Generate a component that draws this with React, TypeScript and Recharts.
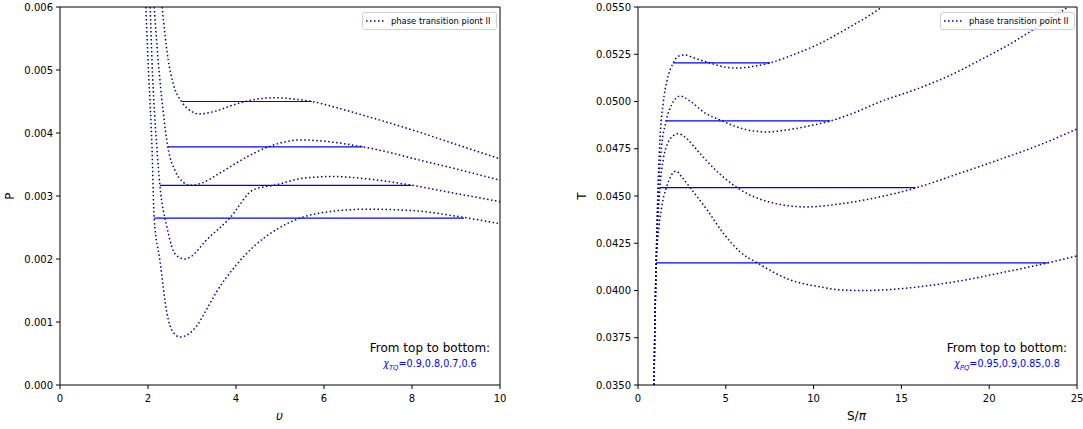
import { Line, LineChart, ReferenceLine, XAxis, YAxis } from "recharts";

// left panel: P vs v, chi_TQ = 0.9, 0.8, 0.7, 0.6  ([v, P])
const tq09 = [
  [2.32, 0.006], [2.46, 0.00516], [2.57, 0.00479], [2.77, 0.00449], [3.0, 0.00434], [3.15, 0.0043],
  [3.5, 0.00434], [4.0, 0.00446], [4.5, 0.00454], [4.9, 0.00456], [5.3, 0.00454], [5.72, 0.0045],
  [6.5, 0.00436], [7.0, 0.00426], [8.0, 0.00405], [9.0, 0.00382], [10, 0.00359],
];
const tq08 = [
  [2.14, 0.006], [2.23, 0.00516], [2.34, 0.00437], [2.45, 0.00378], [2.61, 0.00341], [2.8, 0.00322],
  [2.95, 0.00317], [3.2, 0.0032], [3.6, 0.00335], [4.0, 0.00352], [4.5, 0.00371], [5.0, 0.00384],
  [5.45, 0.00389], [6.0, 0.00387], [6.88, 0.00378], [7.5, 0.00369], [8.0, 0.0036], [9.0, 0.00343], [10, 0.00325],
];
const tq07 = [
  [2.05, 0.006], [2.09, 0.00516], [2.2, 0.00378], [2.27, 0.00317], [2.43, 0.00251], [2.57, 0.00214],
  [2.7, 0.00203], [2.84, 0.002], [3.0, 0.00205], [3.3, 0.00228], [3.86, 0.00265], [4.4, 0.0031],
  [4.93, 0.00318], [5.5, 0.00328], [6.2, 0.00331], [7.0, 0.00327], [8.0, 0.00317], [9.0, 0.00304], [10, 0.00291],
];
const tq06 = [
  [1.95, 0.006], [2.0, 0.00516], [2.09, 0.00378], [2.14, 0.00265], [2.27, 0.00198], [2.43, 0.00114],
  [2.57, 0.00084], [2.73, 0.00076], [2.9, 0.0008], [3.11, 0.00094], [3.3, 0.00116], [3.56, 0.00148],
  [4.0, 0.0019], [4.39, 0.00219], [4.9, 0.00246], [5.5, 0.00266], [6.0, 0.00274], [6.97, 0.00279],
  [8.0, 0.00277], [9.0, 0.00268], [10, 0.00256],
];
// equal-area lines: [P, v start, v end]
const tqLevels = [
  [0.0045, 2.77, 5.72],
  [0.00378, 2.45, 6.88],
  [0.00317, 2.27, 7.99],
  [0.00265, 2.14, 9.18],
];

// right panel: T vs S/pi, chi_PQ = 0.95, 0.9, 0.85, 0.8  ([S/pi, T])
const pq095 = [
  [0.91, 0.035], [0.98, 0.039], [1.08, 0.0435], [1.25, 0.048], [1.43, 0.0499], [1.65, 0.0511],
  [2.01, 0.05204], [2.3, 0.0524], [2.68, 0.05246], [3.2, 0.0523], [4.1, 0.05204], [4.8, 0.05185],
  [5.64, 0.05177], [6.5, 0.05185], [7.52, 0.05204], [8.5, 0.05235], [9.4, 0.05268], [10.38, 0.05308],
  [11.7, 0.05375], [13, 0.05445], [13.9, 0.055],
];
const pq09 = [
  [0.91, 0.035], [0.97, 0.0385], [1.05, 0.042], [1.15, 0.045], [1.3, 0.0472], [1.6, 0.04897],
  [1.9, 0.0498], [2.4, 0.05029], [3.0, 0.05], [3.8, 0.0494], [4.68, 0.04902], [5.5, 0.0487],
  [6.5, 0.04845], [7.36, 0.04839], [8.5, 0.0485], [9.7, 0.0487], [10.95, 0.04897], [12.3, 0.0494],
  [13.8, 0.04999], [15.7, 0.0506], [17.6, 0.05131], [19.5, 0.0522], [21.4, 0.05316], [23, 0.0541], [24.5, 0.055],
];
const pq085 = [
  [0.91, 0.035], [0.96, 0.038], [1.02, 0.0408], [1.1, 0.043], [1.25, 0.04544], [1.45, 0.047],
  [1.7, 0.0478], [2.0, 0.04818], [2.28, 0.0483], [2.7, 0.0481], [3.36, 0.04743], [4.5, 0.0463],
  [5.65, 0.04544], [7.7, 0.04463], [9.6, 0.04442], [11.5, 0.04458], [13.5, 0.0449], [15.8, 0.04542],
  [18, 0.0461], [20.5, 0.0469], [23, 0.04775], [25, 0.04855],
];
const pq08 = [
  [0.91, 0.035], [0.95, 0.0375], [0.99, 0.0397], [1.03, 0.04144], [1.2, 0.0434], [1.4, 0.0447],
  [1.63, 0.04549], [1.9, 0.0461], [2.17, 0.04632], [2.5, 0.046], [2.97, 0.04544], [3.94, 0.04426],
  [4.85, 0.04304], [5.82, 0.04204], [6.79, 0.04146], [8.67, 0.04056], [10.38, 0.04019], [11.5, 0.04003],
  [12.84, 0.04], [15, 0.0401], [17.97, 0.04045], [20.65, 0.04093], [23.33, 0.04146], [25, 0.04183],
];
// equal-area lines: [T, S start, S end]
const pqLevels = [
  [0.05204, 2.01, 7.52],
  [0.04897, 1.6, 10.95],
  [0.04544, 1.25, 15.8],
  [0.04146, 1.03, 23.33],
];

const leftXTicks = [0, 2, 4, 6, 8, 10];
const leftYTicks = [0, 0.001, 0.002, 0.003, 0.004, 0.005, 0.006];
const rightXTicks = [0, 5, 10, 15, 20, 25];
const rightYTicks = [0.035, 0.0375, 0.04, 0.0425, 0.045, 0.0475, 0.05, 0.0525, 0.055];

const toPts = (a: number[][]) => a.map(([x, y]) => ({ x, y }));
const levelPts = (l: number[]) => [{ x: l[1], y: l[0] }, { x: l[2], y: l[0] }];

const curveColor = "#00008b";
const tickStyle = { fontSize: 10, fill: "#000" };
const font = "'DejaVu Sans', sans-serif";

function LegendBox({ left, label }: { left: number; label: string }) {
  return (
    <div style={{ position: "absolute", left, top: 12, width: 135, height: 18, boxSizing: "border-box", border: "1px solid #d0d0d0", borderRadius: 3, background: "rgba(255,255,255,0.8)", display: "flex", alignItems: "center", fontSize: 8.4, color: "#000" }}>
      <svg width={26} height={10} style={{ marginLeft: 2 }}>
        <line x1={1} y1={5} x2={20} y2={5} stroke={curveColor} strokeWidth={1.5} strokeDasharray="1.5 2.5" />
      </svg>
      <span style={{ whiteSpace: "nowrap" }}>{label}</span>
    </div>
  );
}

function Note({ cx, sub, values }: { cx: number; sub: string; values: string }) {
  return (
    <div style={{ position: "absolute", left: cx - 90, top: 340, width: 180, textAlign: "center" }}>
      <div style={{ fontSize: 12, color: "#000", lineHeight: "17px" }}>From top to bottom:</div>
      <div style={{ fontSize: 9.6, color: "#0000ff", lineHeight: "14px" }}>
        <i>χ<sub style={{ fontSize: 6.8 }}>{sub}</sub></i>={values}
      </div>
    </div>
  );
}

export default function App() {
  const leftCurves = [tq09, tq08, tq07, tq06];
  const rightCurves = [pq095, pq09, pq085, pq08];
  return (
    <div style={{ position: "absolute", left: 0, top: 0, width: 1083, height: 429, background: "#fff", fontFamily: font }}>
      <div style={{ position: "absolute", left: 0, top: 0 }}>
        <LineChart width={520} height={429} margin={{ top: 7, right: 20, bottom: 0, left: 0 }}>
          <XAxis dataKey="x" type="number" domain={[0, 10]} ticks={leftXTicks} interval={0} height={44} tickSize={4} tickMargin={6} tick={tickStyle} axisLine={{ stroke: "#000" }} tickLine={{ stroke: "#000" }} />
          <YAxis type="number" domain={[0, 0.006]} ticks={leftYTicks} interval={0} width={60} tickSize={4} tickMargin={3} tick={tickStyle} tickFormatter={(v: number) => v.toFixed(3)} axisLine={{ stroke: "#000" }} tickLine={{ stroke: "#000" }} />
          <ReferenceLine y={0.006} stroke="#000" />
          <ReferenceLine x={10} stroke="#000" />
          {tqLevels.map((l, i) => (
            <Line key={"l" + i} data={levelPts(l)} dataKey="y" stroke="#0000ff" strokeWidth={1.2} dot={false} isAnimationActive={false} />
          ))}
          {leftCurves.map((c, i) => (
            <Line key={"c" + i} data={toPts(c)} dataKey="y" type="monotone" stroke={curveColor} strokeWidth={1.5} strokeDasharray="1.5 2.5" dot={false} isAnimationActive={false} />
          ))}
        </LineChart>
      </div>
      <div style={{ position: "absolute", left: 578, top: 0 }}>
        <LineChart width={505} height={429} margin={{ top: 7, right: 6, bottom: 0, left: 0 }}>
          <XAxis dataKey="x" type="number" domain={[0, 25]} ticks={rightXTicks} interval={0} height={44} tickSize={4} tickMargin={6} tick={tickStyle} axisLine={{ stroke: "#000" }} tickLine={{ stroke: "#000" }} />
          <YAxis type="number" domain={[0.035, 0.055]} ticks={rightYTicks} interval={0} width={60} tickSize={4} tickMargin={3} tick={tickStyle} tickFormatter={(v: number) => v.toFixed(4)} axisLine={{ stroke: "#000" }} tickLine={{ stroke: "#000" }} />
          <ReferenceLine y={0.055} stroke="#000" />
          <ReferenceLine x={25} stroke="#000" />
          {pqLevels.map((l, i) => (
            <Line key={"l" + i} data={levelPts(l)} dataKey="y" stroke="#0000ff" strokeWidth={1.2} dot={false} isAnimationActive={false} />
          ))}
          {rightCurves.map((c, i) => (
            <Line key={"c" + i} data={toPts(c)} dataKey="y" type="monotone" stroke={curveColor} strokeWidth={1.5} strokeDasharray="1.5 2.5" dot={false} isAnimationActive={false} />
          ))}
        </LineChart>
      </div>

      <div style={{ position: "absolute", left: 6, top: 189, fontSize: 12, transform: "rotate(-90deg)" }}>P</div>
      <div style={{ position: "absolute", left: 578, top: 189, fontSize: 12, transform: "rotate(-90deg)" }}>T</div>
      <div style={{ position: "absolute", left: 276, top: 409, fontSize: 12, fontStyle: "italic" }}>υ</div>
      <div style={{ position: "absolute", left: 847, top: 409, fontSize: 12 }}>S/<i>π</i></div>

      <LegendBox left={362} label="phase transition piont II" />
      <LegendBox left={940} label="phase transition point II" />
      <Note cx={430} sub="TQ" values="0.9,0.8,0.7,0.6" />
      <Note cx={1007} sub="PQ" values="0.95,0.9,0.85,0.8" />
    </div>
  );
}
